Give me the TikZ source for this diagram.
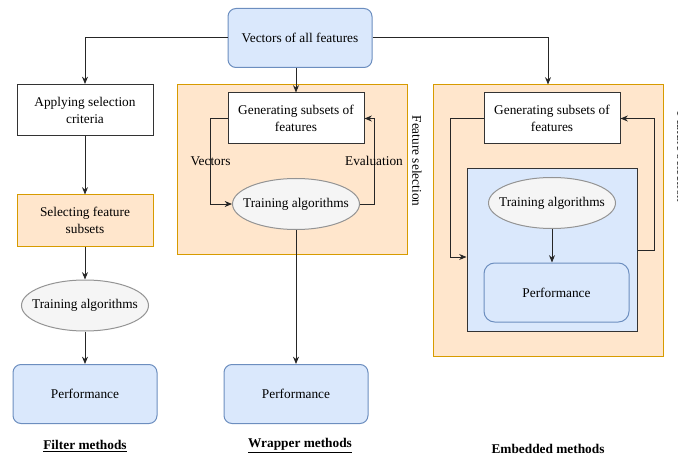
\documentclass[tikz,border=0pt]{standalone}
\usepackage{fontspec}
\setmainfont{Liberation Serif}
\usetikzlibrary{shapes.geometric,arrows.meta}

\definecolor{blueFill}{HTML}{DAE8FC}
\definecolor{blueLine}{HTML}{6C8EBF}
\definecolor{orangeFill}{HTML}{FFE6CC}
\definecolor{orangeLine}{HTML}{D79B00}
\definecolor{greyFill}{HTML}{F5F5F5}
\definecolor{greyLine}{HTML}{666666}

\tikzset{basic/.style={draw,align=center,font=\fontsize{10}{12.75}\selectfont,line width=0.75pt}}
\tikzset{plain/.style={basic,rectangle,fill=white,draw=black!80,minimum width=102pt,minimum height=38.25pt}}
\tikzset{selected/.style={basic,rectangle,fill=orangeFill,draw=orangeLine,minimum width=102pt,minimum height=38.25pt}}
\tikzset{region/.style={basic,rectangle,fill=orangeFill,draw=orangeLine}}
\tikzset{algo/.style={basic,ellipse,fill=greyFill,draw=greyLine!70,minimum width=95.25pt,minimum height=38.25pt,inner xsep=-7pt,inner ysep=0pt}}
\tikzset{result/.style={basic,rectangle,rounded corners=6pt,fill=blueFill,draw=blueLine,minimum width=108pt,minimum height=44.25pt}}
\tikzset{caption/.style={font=\fontsize{10}{12}\selectfont\bfseries}}
\tikzset{link/.style={draw=black!85,line width=0.75pt}}

\begin{document}
\begin{tikzpicture}[x=0.75pt,y=-0.75pt,>={Stealth[length=5.5pt,width=4.5pt]}]
	\useasboundingbox (0,0) rectangle (678,456);

	% background regions
	\node[region,minimum width=172.5pt,minimum height=126.75pt] (wrap) at (292,169.5) {};
	\node[region,minimum width=172.5pt,minimum height=203.25pt] (embed) at (548,220.5) {};
	\node[basic,rectangle,fill=blueFill,draw=black!80,minimum width=127.5pt,minimum height=121.5pt] (ebox) at (552,250) {};

	\node[result] (top) at (300,38) {Vectors of all features};

	% filter methods
	\node[plain] (apply) at (85,110) {Applying selection\\criteria};
	\node[selected] (subset) at (85,220.5) {Selecting feature\\subsets};
	\node[algo] (falgo) at (85,305.5) {Training algorithms};
	\node[result] (fperf) at (85,394) {Performance};
	\node[caption] (fcap) at (85,446) {\underline{Filter methods}};
		\path[link,->] (top.west) -| (apply.north);
		\path[link,->] (apply) -- (subset);
		\path[link,->] (subset) -- (falgo);
		\path[link,->] (falgo) -- (fperf);

	% wrapper methods
	\node[plain] (wgen) at (296,118.5) {Generating subsets of\\features};
	\node[algo] (walgo) at (296,204) {Training algorithms};
	\node[result] (wperf) at (296,394) {Performance};
	\node[basic,draw=none,rotate=-90] (wsel) at (417,161) {Feature selection};
	\node[caption] (wcap) at (300,446) {\underline{Wrapper methods}};
		\path[link,->] (top.south -| wgen.north) -- (wgen.north);
		\path[link,->] (wgen.west) -- ++(-17,0) |- node[basic,draw=none,pos=0.25] {Vectors} (walgo.west);
		\path[link,->] (walgo.east) -- ++(14,0) |- node[basic,draw=none,pos=0.25] {Evaluation} (wgen.east);
		\path[link,->] (walgo) -- (wperf);

	% embedded methods
	\node[plain] (egen) at (552,118.5) {Generating subsets of\\features};
	\node[algo] (ealgo) at (552,203) {Training algorithms};
	\node[result,rounded corners=8pt,minimum width=108.75pt] (eperf) at (556.5,292.5) {Performance};
	\node[basic,draw=none,rotate=-90] (esel) at (682,157) {Feature selection};
	\node[caption] (ecap) at (548,449) {Embedded methods};
		\path[link,->] (top.east) -| (embed.north);
		\path[link,->] (egen.west) -- ++(-33,0) |- ([yshift=-5.25pt]ebox.west);
		\path[link,->] (ebox.east) -- ++(17,0) |- (egen.east);
		\path[link,->] (ealgo.south) -- (ealgo.south |- eperf.north);

\end{tikzpicture}
\end{document}
